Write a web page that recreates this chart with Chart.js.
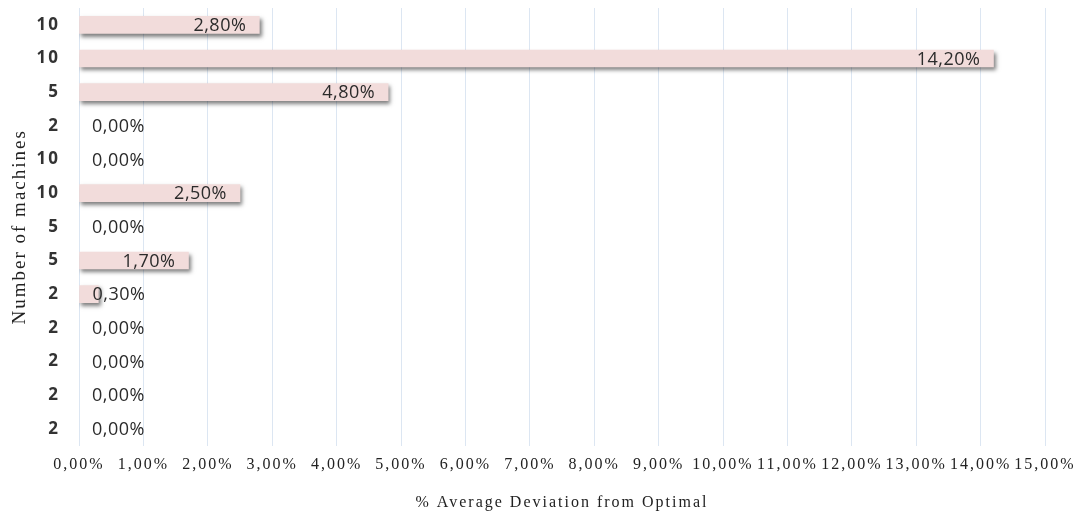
<!DOCTYPE html>
<html>
<head>
<meta charset="utf-8">
<script src="https://cdn.jsdelivr.net/npm/chart.js@4.4.1/dist/chart.umd.min.js"></script>
<style>
  html, body { margin: 0; padding: 0; background: #fff; }
  #wrap { width: 1083px; height: 516px; }
</style>
</head>
<body>
<div id="wrap"><canvas id="myChart"></canvas></div>
<script>
// rows, top to bottom
const machines = ["10", "10", "5", "2", "10", "10", "5", "5", "2", "2", "2", "2", "2"];
const deviation = [2.8, 14.2, 4.8, 0, 0, 2.5, 0, 1.7, 0.3, 0, 0, 0, 0];
const xTickLabels = ["0,00%", "1,00%", "2,00%", "3,00%", "4,00%", "5,00%", "6,00%", "7,00%",
  "8,00%", "9,00%", "10,00%", "11,00%", "12,00%", "13,00%", "14,00%", "15,00%"];

const fmt = v => v.toFixed(2).replace('.', ',') + '%';

// letter spacing for the x axis text (drawn before the bars)
const spacing = {
  id: 'spacing',
  beforeDraw(chart) { chart.ctx.letterSpacing = '2px'; },
  beforeDatasetsDraw(chart) { chart.ctx.letterSpacing = '0px'; }
};

// soft shadow under the bars
const shadow = {
  id: 'shadow',
  beforeDatasetsDraw(chart) {
    const c = chart.ctx;
    c.save();
    c.shadowColor = 'rgba(0,0,0,0.5)';
    c.shadowOffsetX = 2;
    c.shadowOffsetY = 3;
    c.shadowBlur = 4;
  },
  afterDatasetsDraw(chart) {
    chart.ctx.restore();
  }
};

// value labels at the inside end of each bar
const valueLabels = {
  id: 'valueLabels',
  afterDatasetsDraw(chart) {
    const c = chart.ctx;
    c.save();
    c.font = '18px "Open Sans"';
    c.letterSpacing = '0.5px';
    c.fillStyle = '#2b2b2b';
    c.textBaseline = 'middle';
    c.textAlign = 'left';
    chart.getDatasetMeta(0).data.forEach((bar, i) => {
      const txt = fmt(deviation[i]);
      const w = c.measureText(txt).width;
      const left = Math.max(bar.x - 13 - w, bar.base + 13);
      c.fillText(txt, left, bar.y + 1);
    });
    c.restore();
  }
};

const ctx = document.getElementById('myChart');
new Chart(ctx, {
  type: 'bar',
  data: {
    labels: machines,
    datasets: [{
      data: deviation,
      backgroundColor: c => deviation[c.dataIndex] > 0 ? '#f2dcdb' : 'rgba(0,0,0,0)',
      borderWidth: 0,
      barThickness: 17
    }]
  },
  plugins: [spacing, shadow, valueLabels],
  options: {
    indexAxis: 'y',
    responsive: true,
    maintainAspectRatio: false,
    animation: false,
    layout: { padding: { top: 8, right: 38, bottom: 4, left: 9 } },
    plugins: { legend: { display: false }, tooltip: { enabled: false } },
    scales: {
      x: {
        min: 0,
        max: 15,
        ticks: {
          stepSize: 1,
          autoSkip: false,
          maxRotation: 0,
          color: '#222',
          font: { family: '"Liberation Serif"', size: 16 },
          padding: 10,
          callback: (v, i) => xTickLabels[i]
        },
        grid: { color: '#dce6f2', drawTicks: false },
        border: { display: false },
        title: {
          display: true,
          text: '% Average Deviation from Optimal',
          color: '#222',
          font: { family: '"Liberation Serif"', size: 16 },
          padding: { top: 8, bottom: 0 }
        }
      },
      y: {
        z: 1,
        afterFit(scale) {
          scale.width = 70;
          scale.paddingTop = 0;
          scale.paddingBottom = 0;
        },
        ticks: {
          color: '#333',
          font: { family: '"Open Sans"', size: 17, weight: 'bold' },
          padding: 19
        },
        grid: { display: false, drawTicks: false },
        border: { display: true, color: '#dce6f2' },
        title: {
          display: true,
          text: 'Number of machines',
          color: '#222',
          font: { family: '"Liberation Serif"', size: 19 },
          padding: { top: 0, bottom: 2 }
        }
      }
    }
  }
});
</script>
</body>
</html>
